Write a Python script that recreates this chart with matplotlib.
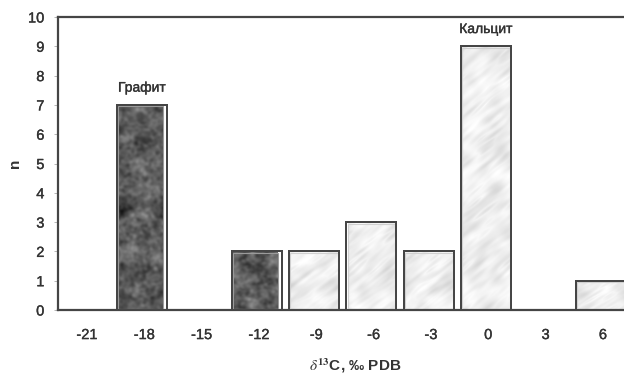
import numpy as np
import matplotlib.pyplot as plt
import matplotlib.patheffects as pe
from matplotlib.patches import Rectangle

plt.rcParams['font.family'] = ['Liberation Sans', 'DejaVu Sans']
plt.rcParams['mathtext.fontset'] = 'stix'

d13c = [-21, -18, -15, -12, -9, -6, -3, 0, 3, 6]
graphite = [0, 7, 0, 2, 0, 0, 0, 0, 0, 0]
calcite = [0, 0, 0, 0, 2, 3, 2, 9, 0, 1]
labels = {1: 'Графит', 7: 'Кальцит'}

ink = '#333333'
edge = '#454545'
thick = [pe.withStroke(linewidth=0.25, foreground=ink)]


def smooth_noise(shape, sy, sx, rot, seed):
    # gaussian-filtered noise done in the frequency domain, with an oblique grain
    rng = np.random.default_rng(seed)
    z = rng.standard_normal(shape)
    fy = np.fft.fftfreq(shape[0])[:, None]
    fx = np.fft.fftfreq(shape[1])[None, :]
    c, s = np.cos(rot), np.sin(rot)
    u = c * fx + s * fy
    v = -s * fx + c * fy
    g = np.exp(-2 * np.pi**2 * ((u * sx)**2 + (v * sy)**2))
    out = np.real(np.fft.ifft2(np.fft.fft2(z) * g))
    return (out - out.mean()) / out.std()


fig = plt.figure(figsize=(6.24, 3.78), dpi=100)
ax = fig.add_axes([58.3 / 624, 68 / 378, 573.3 / 624, 293 / 378])

x = np.arange(len(d13c))
w = 0.87
off = -0.04
px_per_unit = 29.3
bars_g = ax.bar(x + off, graphite, w, color='white', edgecolor=edge, linewidth=1.4, zorder=2)
bars_c = ax.bar(x + off, calcite, w, color='white', edgecolor=edge, linewidth=1.4, zorder=2)

for bars, kind in ((bars_g, 'dark'), (bars_c, 'light')):
    for i, b in enumerate(bars):
        h = b.get_height()
        if h <= 0:
            continue
        x0 = b.get_x()
        bw = b.get_width()
        rows = int(h * px_per_unit) + 8
        if kind == 'dark':
            cols = 46
            t = smooth_noise((rows, cols), 1.5, 1.5, 0.0, 10 + i)
            t2 = smooth_noise((rows, cols), 5, 5, 0.0, 40 + i)
            img = 0.36 + 0.04 * t + 0.05 * t2
            x1 = x0 + bw * 0.92
            frame = '#9a9a9a'
        else:
            cols = 50
            t = smooth_noise((rows, cols), 1.5, 8, -0.7, 70 + i)
            t2 = smooth_noise((rows, cols), 5, 5, 0.0, 90 + i)
            img = 0.94 + 0.025 * t + 0.02 * t2 - 0.06 * np.clip(t - 1.0, 0, None)
            x1 = x0 + bw * 0.98
            frame = '#d0d0d0'
        img = np.clip(img, 0, 1)
        ax.imshow(img, cmap='gray', vmin=0, vmax=1, extent=[x0 + 0.02, x1, 0.03, h - 0.05],
                  aspect='auto', interpolation='bilinear', zorder=2.5)
        ax.add_patch(Rectangle((x0 + 0.02, 0.03), x1 - x0 - 0.02, h - 0.08, fill=False,
                               edgecolor=frame, linewidth=0.8, zorder=2.7))
        ax.add_patch(Rectangle((x0, 0), bw, h, fill=False, edgecolor=edge,
                               linewidth=1.4, zorder=3))

for i, txt in labels.items():
    top = max(graphite[i], calcite[i])
    ax.text(x[i] + off, top + 0.35, txt, ha='center', va='bottom',
            fontsize=10, color=ink, path_effects=thick)

ax.set_xlim(-0.5, 9.5)
ax.set_ylim(0, 10)
ax.set_xticks(x)
ax.set_xticklabels([str(v) for v in d13c])
ax.set_yticks(range(0, 11))
ax.tick_params(axis='x', length=0, pad=13, labelsize=10.5, labelcolor=ink)
ax.tick_params(axis='y', length=3, width=0.6, color='#aaaaaa', pad=7,
               labelsize=10.5, labelcolor=ink)
for lab in ax.get_xticklabels() + ax.get_yticklabels():
    lab.set_path_effects(thick)
for sp in ('left', 'bottom', 'top'):
    ax.spines[sp].set_color(edge)
    ax.spines[sp].set_linewidth(1.6)
ax.spines['right'].set_visible(False)

fig.text(15 / 624, 1 - 163 / 378, 'n', rotation=90, ha='center', va='center',
         fontsize=11, fontweight='bold', color=ink)
fig.text(355 / 624, 1 - 366 / 378, r'$\delta^{\mathbf{13}}$' + 'C, ‰ PDB',
         ha='center', va='center', fontsize=11, fontweight='bold', color=ink)

fig.savefig('out.png', dpi=100)
